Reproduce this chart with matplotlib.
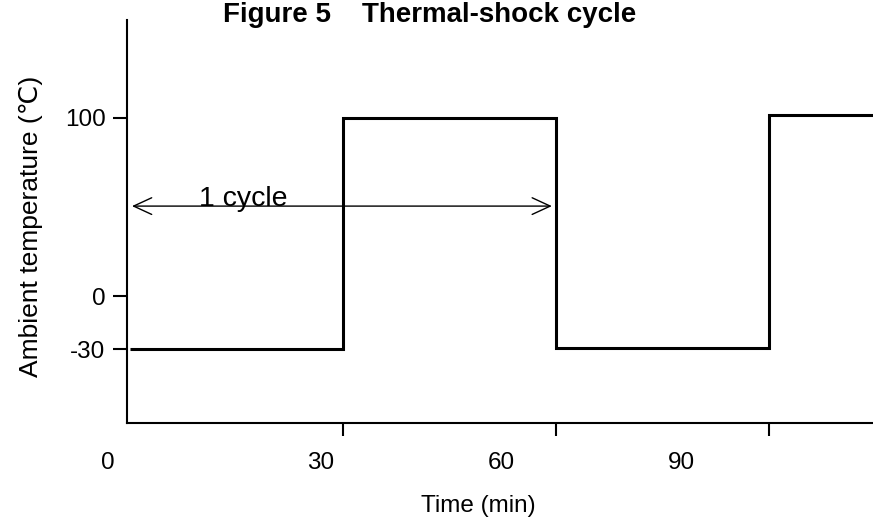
import numpy as np
import matplotlib.pyplot as plt

plt.rcParams['font.family'] = ['Liberation Sans', 'DejaVu Sans']

# Datos del ciclo de choque térmico
tiempos = [0, 30, 60, 90, 104.6]          # bordes de cada tramo (min)
temperaturas = [-30, 100, -29, 101.5]      # temperatura de cada tramo (°C)

yticks = [100, 0, -30]
ytick_labels = ['100', '0', '-30']
xticks = [30, 60, 90]
# las etiquetas del eje x del original no están alineadas con las marcas
xlabel_pos = [-3.1, 26.8, 52.3, 77.7]
xlabel_txt = ['0', '30', '60', '90']

ciclo = [0.3, 59.4]
ciclo_temp = 50.5

fig = plt.figure(figsize=(8.73, 5.22), dpi=100)
ax = fig.add_axes([127 / 873, 99 / 522, 746 / 873, 403 / 522])

# Dibujar la curva escalonada
ax.stairs(temperaturas, tiempos, baseline=None, color='black', linewidth=2.2)

# Flecha de un ciclo
ax.annotate('', xy=(ciclo[1], ciclo_temp), xytext=(ciclo[0], ciclo_temp),
            arrowprops=dict(arrowstyle='<->,head_length=1.3,head_width=0.6',
                            color='black', lw=1, shrinkA=0, shrinkB=0))
ax.text(15.9, ciclo_temp, '1 cycle', ha='center', va='baseline', fontsize=20.5)

# Ejes
for lado in ['top', 'right']:
    ax.spines[lado].set_visible(False)
ax.spines['left'].set_linewidth(1.5)
ax.spines['bottom'].set_linewidth(1.5)

ax.set_yticks(yticks)
ax.set_yticklabels(ytick_labels)
ax.tick_params(axis='y', direction='out', length=10, width=1.5, pad=5.5, labelsize=17.5)

ax.set_xticks(xticks)
ax.set_xticklabels([])
ax.tick_params(axis='x', which='major', direction='out', length=9.5, width=1.5)

# Etiquetas del eje x desplazadas como en el original
for pos, txt in zip(xlabel_pos, xlabel_txt):
    ax.text(pos, -(463 - 423) / 403, txt, transform=ax.get_xaxis_transform(),
            ha='center', va='center', fontsize=17.5, clip_on=False)

# Límites (después de los ticks para que no se amplíen)
ax.set_xlim(-0.4, 104.6)
ax.set_ylim(-71.3, 155)

# Etiquetas
ax.set_xlabel('Time (min)', fontsize=17.5, va='top')
ax.xaxis.set_label_coords((478 - 127) / 746, -(495 - 423) / 403)
ax.set_ylabel('Ambient temperature (℃)', fontsize=19, va='bottom')
ax.yaxis.set_label_coords(-(127 - 43) / 746, (423 - 226) / 403)

fig.text(430 / 873, 1 - 22 / 522, 'Figure 5    Thermal-shock cycle',
         ha='center', va='baseline', fontsize=20, fontweight='bold')

fig.savefig('out.png', dpi=100)
